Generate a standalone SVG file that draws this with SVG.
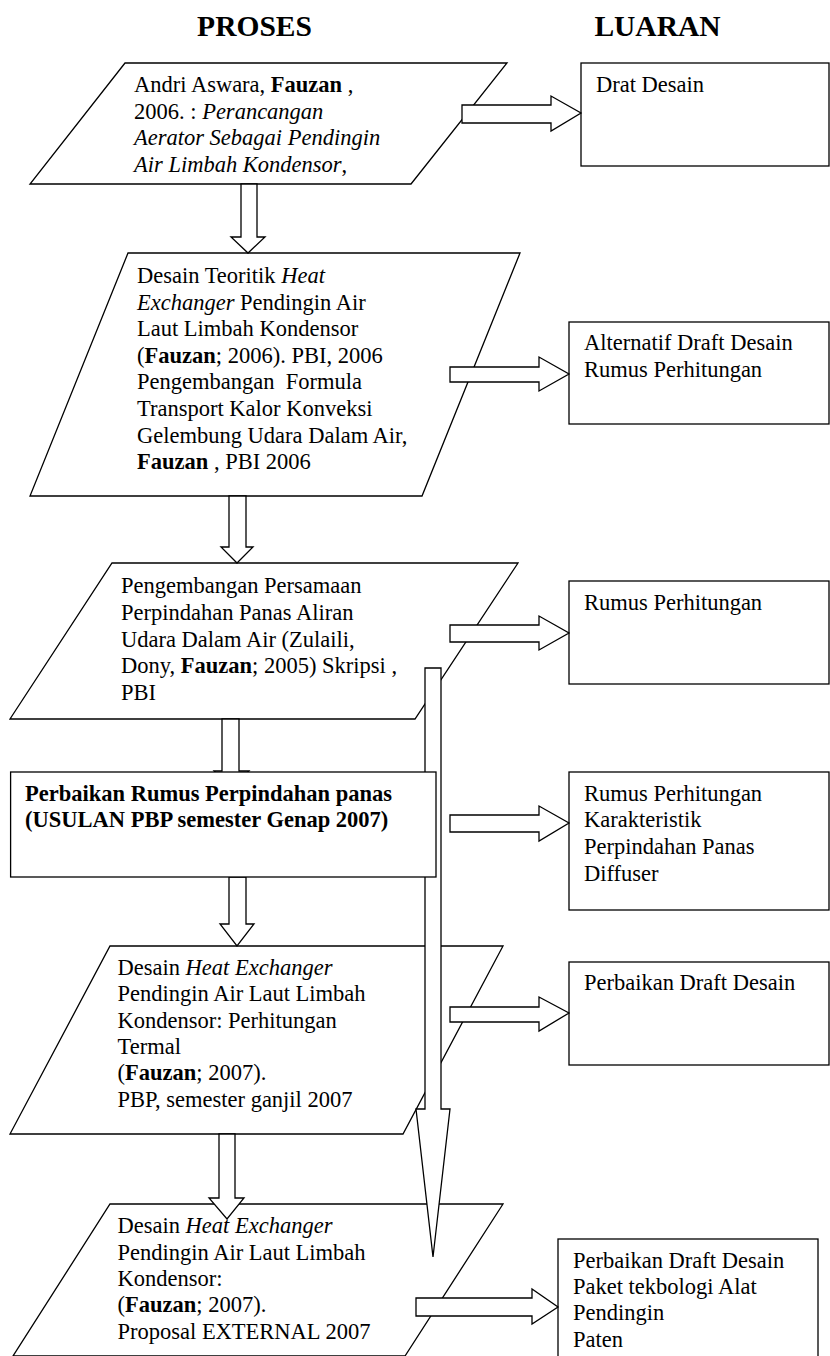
<svg xmlns="http://www.w3.org/2000/svg" width="830" height="1356" viewBox="0 0 830 1356">
<style>
.s{fill:#fff;stroke:#000;stroke-width:1.3;stroke-linejoin:miter}
.t{font-family:"Liberation Serif","Times New Roman",serif;font-size:22.5px;fill:#000;white-space:pre}
.h{font-family:"Liberation Serif","Times New Roman",serif;font-size:29.5px;font-weight:bold;fill:#000;text-anchor:middle}
.b{font-weight:bold}
.i{font-style:italic}
</style>
<rect width="830" height="1356" fill="#fff"/>
<g id="titles">
<text class="h" x="254.5" y="36">PROSES</text>
<text class="h" x="657.5" y="36">LUARAN</text>
</g>
<g id="p1">
<polygon class="s" points="125,63 507,63 411,184 30,184"/>
<text class="t" x="134" y="92">Andri Aswara, <tspan class="b">Fauzan</tspan> ,</text>
<text class="t" x="134" y="118.5">2006. : <tspan class="i">Perancangan</tspan></text>
<text class="t i" x="134" y="145">Aerator Sebagai Pendingin</text>
<text class="t" x="134" y="171.5"><tspan class="i">Air Limbah Kondensor</tspan>,</text>
</g>
<g id="p2">
<polygon class="s" points="128,253 520,253 422,496 30,496"/>
<text class="t" x="137" y="283">Desain Teoritik <tspan class="i">Heat</tspan></text>
<text class="t" x="137" y="309.6"><tspan class="i">Exchanger</tspan> Pendingin Air</text>
<text class="t" x="137" y="336.2">Laut Limbah Kondensor</text>
<text class="t" x="137" y="362.8">(<tspan class="b">Fauzan</tspan>; 2006). PBI, 2006</text>
<text class="t" x="137" y="389.4">Pengembangan  Formula</text>
<text class="t" x="137" y="416">Transport Kalor Konveksi</text>
<text class="t" x="137" y="442.6">Gelembung Udara Dalam Air,</text>
<text class="t" x="137" y="469.2"><tspan class="b">Fauzan</tspan> , PBI 2006</text>
</g>
<g id="p3">
<polygon class="s" points="112,563 518,563 415,719 10,719"/>
<text class="t" x="121" y="593">Pengembangan Persamaan</text>
<text class="t" x="121" y="620">Perpindahan Panas Aliran</text>
<text class="t" x="121" y="647">Udara Dalam Air (Zulaili,</text>
<text class="t" x="121" y="673">Dony, <tspan class="b">Fauzan</tspan>; 2005) Skripsi ,</text>
<text class="t" x="121" y="700">PBI</text>
</g>
<g id="p5">
<polygon class="s" points="110,946 503,946 403,1134 10,1134"/>
<text class="t" x="117.5" y="975">Desain <tspan class="i">Heat Exchanger</tspan></text>
<text class="t" x="117.5" y="1001">Pendingin Air Laut Limbah</text>
<text class="t" x="117.5" y="1028">Kondensor: Perhitungan</text>
<text class="t" x="117.5" y="1054">Termal</text>
<text class="t" x="117.5" y="1080">(<tspan class="b">Fauzan</tspan>; 2007).</text>
<text class="t" x="117.5" y="1107">PBP, semester ganjil 2007</text>
</g>
<g id="p6">
<polygon class="s" points="110,1204 503,1204 405,1356 13,1356"/>
<text class="t" x="117.5" y="1233">Desain <tspan class="i">Heat Exchanger</tspan></text>
<text class="t" x="117.5" y="1260">Pendingin Air Laut Limbah</text>
<text class="t" x="117.5" y="1286">Kondensor:</text>
<text class="t" x="117.5" y="1312">(<tspan class="b">Fauzan</tspan>; 2007).</text>
<text class="t" x="117.5" y="1339">Proposal EXTERNAL 2007</text>
</g>
<g id="o1">
<rect class="s" x="581" y="63" width="248" height="103"/>
<text class="t" x="596" y="92">Drat Desain</text>
</g>
<g id="o2">
<rect class="s" x="569" y="322" width="260" height="102"/>
<text class="t" x="584" y="350">Alternatif Draft Desain</text>
<text class="t" x="584" y="377">Rumus Perhitungan</text>
</g>
<g id="o3">
<rect class="s" x="569" y="581" width="260" height="103"/>
<text class="t" x="584" y="610">Rumus Perhitungan</text>
</g>
<g id="o4">
<rect class="s" x="569" y="772" width="260" height="138"/>
<text class="t" x="584" y="801">Rumus Perhitungan</text>
<text class="t" x="584" y="827">Karakteristik</text>
<text class="t" x="584" y="854">Perpindahan Panas</text>
<text class="t" x="584" y="881">Diffuser</text>
</g>
<g id="o5">
<rect class="s" x="569" y="962" width="260" height="103"/>
<text class="t" x="584" y="990">Perbaikan Draft Desain</text>
</g>
<g id="o6">
<rect class="s" x="558" y="1239" width="260" height="130"/>
<text class="t" x="573" y="1268">Perbaikan Draft Desain</text>
<text class="t" x="573" y="1294">Paket tekbologi Alat</text>
<text class="t" x="573" y="1320">Pendingin</text>
<text class="t" x="573" y="1347">Paten</text>
</g>
<g id="connectors">
<path class="s" d="M241,184 V237 H231 L248,253 L265,237 H257 V184 Z"/>
<path class="s" d="M229,496 V547 H221 L237,563 L253,547 H246 V496 Z"/>
<path class="s" d="M222,719 V771 H214 L231,790 L249,771 H239 V719 Z"/>
<path class="s" d="M229,877 V924 H220 L237,946 L254,924 H246 V877 Z"/>
<path class="s" d="M219,1134 V1198 H209 L227,1219 L244,1198 H235 V1134 Z"/>
<path class="s" d="M462,105 H551 V96 L581,113 L551,131 V123 H462 Z"/>
<path class="s" d="M450,367 H539 V357 L569,374 L539,391 V382 H450 Z"/>
<path class="s" d="M450,625 H539 V616 L569,633 L539,650 V642 H450 Z"/>
<path class="s" d="M450,815 H539 V806 L569,823 L539,841 V832 H450 Z"/>
<path class="s" d="M450,1007 H539 V997 L569,1013 L539,1031 V1022 H450 Z"/>
<path class="s" d="M416,1298 H532 V1289 L558,1307 L532,1324 V1316 H416 Z"/>
<path class="s" d="M425,668 H441 V1109 H450 L433,1257 L416,1109 H425 Z"/>
</g>
<g id="p4">
<rect class="s" x="10.6" y="772" width="425.4" height="105"/>
<text class="t b" x="25" y="801">Perbaikan Rumus Perpindahan panas</text>
<text class="t b" x="25" y="827">(USULAN PBP semester Genap 2007)</text>
</g>
</svg>
